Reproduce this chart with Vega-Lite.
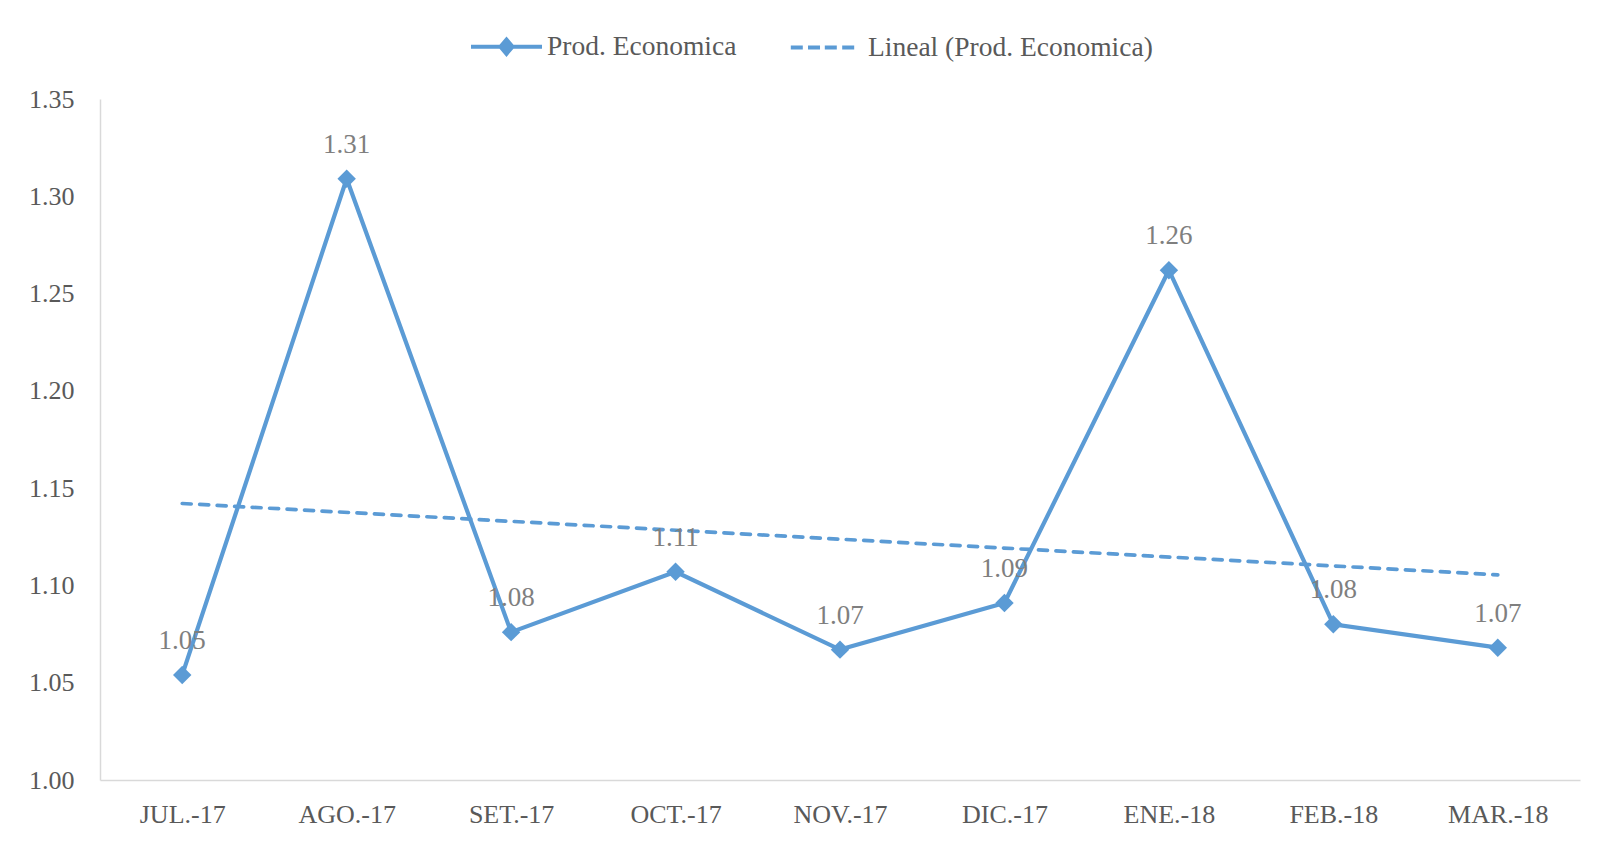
{
  "$schema": "https://vega.github.io/schema/vega-lite/v6.json",
  "width": 1480,
  "height": 681,
  "autosize": {"type": "none"},
  "padding": {"left": 100, "top": 99, "right": 18, "bottom": 62},
  "background": "white",
  "config": {"font": "Liberation Serif", "view": {"stroke": null}},
  "data": {
    "values": [
      {"i": 1, "mes": "JUL.-17", "valor": 1.054, "serie": "Prod. Economica"},
      {"i": 2, "mes": "AGO.-17", "valor": 1.309, "serie": "Prod. Economica"},
      {"i": 3, "mes": "SET.-17", "valor": 1.076, "serie": "Prod. Economica"},
      {"i": 4, "mes": "OCT.-17", "valor": 1.107, "serie": "Prod. Economica"},
      {"i": 5, "mes": "NOV.-17", "valor": 1.067, "serie": "Prod. Economica"},
      {"i": 6, "mes": "DIC.-17", "valor": 1.091, "serie": "Prod. Economica"},
      {"i": 7, "mes": "ENE.-18", "valor": 1.262, "serie": "Prod. Economica"},
      {"i": 8, "mes": "FEB.-18", "valor": 1.080, "serie": "Prod. Economica"},
      {"i": 9, "mes": "MAR.-18", "valor": 1.068, "serie": "Prod. Economica"}
    ]
  },
  "layer": [
    {
      "transform": [{"regression": "valor", "on": "i"}],
      "mark": {"type": "line", "color": "#5B9BD5", "strokeWidth": 3.7, "strokeDash": [9, 8.5], "strokeCap": "round"},
      "encoding": {
        "x": {"field": "i", "type": "quantitative", "scale": {"domain": [0.5, 9.5], "nice": false, "zero": false}, "axis": null},
        "y": {"field": "valor", "type": "quantitative", "scale": {"domain": [1, 1.35], "nice": false, "zero": false}}
      }
    },
    {
      "encoding": {
        "x": {
          "field": "mes", "type": "ordinal", "sort": null,
          "scale": {"type": "point", "padding": 0.5, "domain": ["JUL.-17", "AGO.-17", "SET.-17", "OCT.-17", "NOV.-17", "DIC.-17", "ENE.-18", "FEB.-18", "MAR.-18"]},
          "axis": {"title": null, "domainColor": "#D9D9D9", "domainWidth": 1.5, "ticks": false, "tickSize": 0, "labelFont": "Liberation Serif", "labelFontSize": 26, "labelColor": "#595959", "labelPadding": 21, "labelAngle": 0}
        },
        "y": {
          "field": "valor", "type": "quantitative",
          "scale": {"domain": [1, 1.35], "nice": false, "zero": false},
          "axis": {"title": null, "values": [1, 1.05, 1.1, 1.15, 1.2, 1.25, 1.3, 1.35], "format": ".2f", "domainColor": "#D9D9D9", "domainWidth": 1.5, "ticks": false, "tickSize": 0, "grid": false, "labelFont": "Liberation Serif", "labelFontSize": 26, "labelColor": "#595959", "labelPadding": 26}
        }
      },
      "layer": [
        {"mark": {"type": "line", "color": "#5B9BD5", "strokeWidth": 4.2}},
        {"mark": {"type": "point", "shape": "diamond", "filled": true, "size": 340, "color": "#5B9BD5", "opacity": 1}},
        {
          "mark": {"type": "text", "dy": -26, "baseline": "alphabetic", "fontSize": 27, "color": "#7F7F7F", "font": "Liberation Serif"},
          "encoding": {"text": {"field": "valor", "type": "quantitative", "format": ".2f"}}
        },
        {
          "transform": [{"filter": "datum.i < 0"}],
          "mark": {"type": "point", "filled": false, "color": "#5B9BD5", "strokeWidth": 4, "opacity": 1},
          "encoding": {
            "shape": {
              "field": "serie", "type": "nominal",
              "scale": {"domain": ["Prod. Economica", "Lineal (Prod. Economica)"], "range": ["M-1,0L1,0M0,-0.2L0.17,0L0,0.2L-0.17,0ZM0,-0.1L0.085,0L0,0.1L-0.085,0ZM0,-0.2L0,0.2", "M-1.034,0H-0.696M-0.549,0H-0.211M-0.076,0H0.262M0.414,0H0.752"]},
              "legend": {
                "title": null, "orient": "none", "legendX": 369, "legendY": -90, "direction": "horizontal", "columns": 2,
                "symbolSize": 5041, "symbolStrokeWidth": 4, "symbolStrokeColor": "#5B9BD5", "symbolOpacity": 1,
                "labelFont": "Liberation Serif", "labelFontSize": 27.5, "labelColor": "#595959",
                "labelOffset": 3, "columnPadding": 45, "padding": 0, "labelLimit": 500
              }
            }
          }
        }
      ]
    }
  ],
  "resolve": {"scale": {"x": "independent"}}
}
